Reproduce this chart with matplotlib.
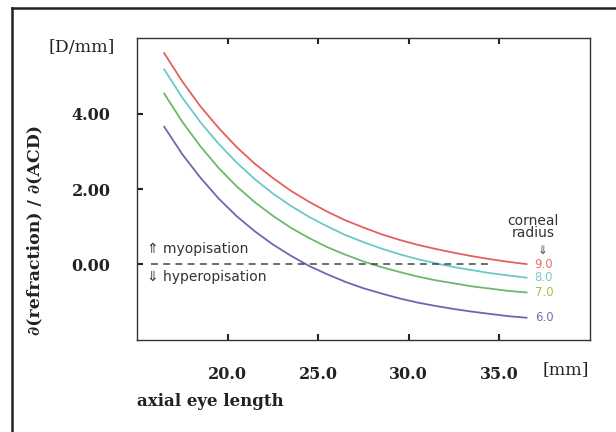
import matplotlib
matplotlib.use('Agg')
import matplotlib.pyplot as plt
from matplotlib.lines import Line2D

# axial eye length [mm]
eye_length = [16.5, 17.5, 18.5, 19.5, 20.5, 21.5, 22.5, 23.5, 24.5, 25.5, 26.5,
              27.5, 28.5, 29.5, 30.5, 31.5, 32.5, 33.5, 34.5, 35.5, 36.5]

# d(refraction)/d(ACD) [D/mm] for each corneal radius
radius_9 = [5.60, 4.85, 4.19, 3.62, 3.11, 2.67, 2.29, 1.95, 1.66, 1.40, 1.17,
            0.98, 0.80, 0.65, 0.52, 0.41, 0.31, 0.22, 0.14, 0.07, 0.01]
radius_8 = [5.17, 4.42, 3.77, 3.20, 2.70, 2.26, 1.88, 1.55, 1.26, 1.01, 0.78,
            0.59, 0.42, 0.27, 0.14, 0.03, -0.07, -0.15, -0.23, -0.29, -0.35]
radius_7 = [4.53, 3.78, 3.13, 2.56, 2.07, 1.65, 1.29, 0.97, 0.70, 0.46, 0.26,
            0.08, -0.07, -0.20, -0.32, -0.42, -0.50, -0.58, -0.64, -0.70, -0.74]
radius_6 = [3.65, 2.92, 2.30, 1.75, 1.28, 0.88, 0.53, 0.23, -0.04, -0.26, -0.46,
            -0.63, -0.77, -0.90, -1.01, -1.10, -1.18, -1.25, -1.31, -1.37, -1.41]

radius_labels = ['9.0', '8.0', '7.0', '6.0']
x_ticks = [20, 25, 30, 35]
x_ticklabels = ['20.0', '25.0', '30.0', '35.0']
y_ticks = [0, 2, 4]
y_ticklabels = ['0.00', '2.00', '4.00']

line_colors = ['#e4605c', '#6cc8c8', '#6cb86a', '#6a68b4']
text_colors = ['#e8706a', '#7cc8cc', '#a8c040', '#7070b8']

fig = plt.figure(figsize=(6.16, 4.32), dpi=100)
ax = fig.add_axes([0.2224, 0.213, 0.7354, 0.699])

series = [radius_9, radius_8, radius_7, radius_6]
for vals, c in zip(series, line_colors):
    ax.plot(eye_length, vals, color=c, lw=1.3)

# zero line
ax.plot([15.8, 34.5], [0, 0], color='#444444', lw=1.1, ls=(0, (4.5, 3.5)))

ax.set_xlim(15, 40)
ax.set_ylim(-2, 6)

serif = {'family': 'DejaVu Serif', 'weight': 'bold', 'size': 11.5}
ax.set_xticks(x_ticks)
ax.set_xticklabels(x_ticklabels, fontdict=serif)
ax.set_yticks(y_ticks)
ax.set_yticklabels(y_ticklabels, fontdict=serif)
ax.tick_params(axis='x', direction='in', length=4, width=1.5, pad=19,
               top=True, colors='#222222')
ax.tick_params(axis='y', direction='in', length=4, width=1.5, pad=19,
               colors='#222222')
for s in ax.spines.values():
    s.set_color('#333333')
    s.set_linewidth(1.0)

# end labels of curves
for vals, lab, c in zip(series, radius_labels, text_colors):
    ax.text(36.95, vals[-1], lab, color=c, fontsize=8.5, va='center', ha='left',
            family='DejaVu Sans')
ax.text(36.85, 1.0, 'corneal\nradius', fontsize=10, ha='center', va='center',
        color='#333333', linespacing=0.85, family='DejaVu Sans')
ax.text(37.4, 0.36, '\u21d3', fontsize=8.5, ha='center', va='center', color='#444444')

ax.text(15.55, 0.40, '\u21d1 myopisation', fontsize=10, va='center', ha='left',
        color='#333333', family='DejaVu Sans')
ax.text(15.55, -0.33, '\u21d3 hyperopisation', fontsize=10, va='center', ha='left',
        color='#333333', family='DejaVu Sans')

# axis titles and units
fig.text(82 / 616, 1 - 47 / 432, '[D/mm]', ha='center', va='center',
         family='DejaVu Serif', size=12.5, color='#222222')
fig.text(566 / 616, 1 - 370 / 432, '[mm]', ha='center', va='center',
         family='DejaVu Serif', size=12.5, color='#222222')
fig.text(137 / 616, 1 - 402 / 432, 'axial eye length', ha='left', va='center',
         family='DejaVu Serif', weight='bold', size=12, color='#222222')
fig.text(35 / 616, 1 - 230 / 432, '\u2202(refraction) / \u2202(ACD)', rotation=90,
         ha='center', va='center', family='DejaVu Serif', weight='bold',
         size=12.5, color='#222222')

# outer frame
fig.add_artist(Line2D([12 / 616, 12 / 616], [0, 1 - 8 / 432], color='#222222', lw=1.8))
fig.add_artist(Line2D([12 / 616, 1], [1 - 8 / 432, 1 - 8 / 432], color='#222222', lw=1.8))

fig.savefig('out.png', dpi=100)
